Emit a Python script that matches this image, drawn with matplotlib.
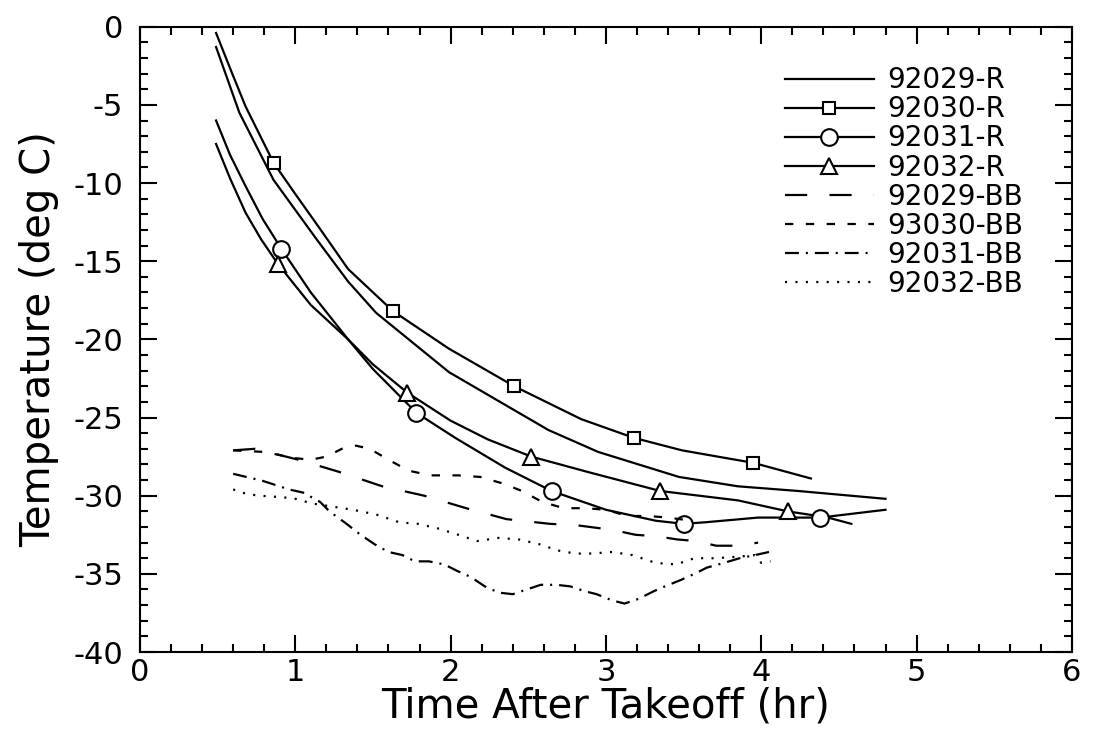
"""
Temperature vs time after takeoff, R and BB runs.
"""

from matplotlib import pyplot as plt
from matplotlib.lines import Line2D
from matplotlib.ticker import MultipleLocator

# R runs (solid lines)
r29_x = [0.49, 0.64, 0.86, 1.13, 1.34, 1.52, 1.99, 2.63, 2.95, 3.47, 3.85, 4.24, 4.80]
r29_y = [-1.3, -5.5, -9.8, -13.5, -16.3, -18.3, -22.1, -25.8, -27.2, -28.8, -29.4, -29.7, -30.2]

r30_x = [0.49, 0.59, 0.68, 0.86, 1.0, 1.15, 1.34, 1.63, 1.99, 2.41, 2.84, 3.18, 3.49, 3.95, 4.32]
r30_y = [-0.4, -2.9, -5.1, -8.7, -10.7, -12.8, -15.5, -18.2, -20.6, -23.0, -25.1, -26.3, -27.1, -27.9, -28.9]
r30_mx = [0.86, 1.63, 2.41, 3.18, 3.95]
r30_my = [-8.7, -18.2, -23.0, -26.3, -27.9]

r31_x = [0.49, 0.58, 0.68, 0.79, 0.91, 1.1, 1.34, 1.5, 1.78, 2.03, 2.35, 2.65, 3.0, 3.32, 3.50,
         3.64, 3.98, 4.38, 4.80]
r31_y = [-6.0, -8.2, -10.2, -12.3, -14.2, -17.0, -20.0, -21.9, -24.7, -26.3, -28.2, -29.7, -30.9,
         -31.6, -31.8, -31.7, -31.4, -31.4, -30.9]
r31_mx = [0.91, 1.78, 2.65, 3.50, 4.38]
r31_my = [-14.2, -24.7, -29.7, -31.8, -31.4]

r32_x = [0.49, 0.58, 0.68, 0.78, 0.89, 1.1, 1.34, 1.5, 1.72, 2.0, 2.24, 2.52, 2.89, 3.35, 3.85,
         4.17, 4.43, 4.58]
r32_y = [-7.5, -9.7, -11.9, -13.6, -15.2, -17.8, -20.0, -21.6, -23.4, -25.2, -26.4, -27.5, -28.5,
         -29.7, -30.3, -31.0, -31.4, -31.8]
r32_mx = [0.89, 1.72, 2.52, 3.35, 4.17]
r32_my = [-15.2, -23.4, -27.5, -29.7, -31.0]

# BB runs (broken lines)
bb29_x = [0.6, 0.74, 1.02, 1.29, 1.56, 1.83, 2.10, 2.36, 2.64, 2.82, 3.05, 3.19, 3.33, 3.46, 3.58,
          3.71, 3.86, 3.98]
bb29_y = [-27.1, -27.0, -27.7, -28.5, -29.4, -30.0, -30.8, -31.5, -31.8, -31.9, -32.2, -32.5, -32.6,
          -32.8, -32.9, -33.2, -33.2, -33.0]

bb30_x = [0.6, 0.8, 1.0, 1.1, 1.2, 1.3, 1.39, 1.48, 1.6, 1.73, 1.87, 2.05, 2.19, 2.33, 2.46, 2.59,
          2.73, 2.87, 3.0, 3.14, 3.27, 3.40, 3.55]
bb30_y = [-27.1, -27.2, -27.6, -27.7, -27.5, -27.0, -26.8, -27.0, -27.7, -28.4, -28.7, -28.7, -28.8,
          -29.2, -29.7, -30.4, -30.8, -30.8, -30.9, -31.3, -31.3, -31.4, -31.6]

bb31_x = [0.6, 0.79, 0.96, 1.05, 1.16, 1.22, 1.33, 1.42, 1.51, 1.60, 1.69, 1.77, 1.86, 1.96, 2.04,
          2.13, 2.22, 2.31, 2.40, 2.49, 2.58, 2.68, 2.77, 2.86, 2.94, 3.04, 3.12, 3.21, 3.31, 3.38,
          3.48, 3.57, 3.65, 3.76, 3.86, 3.96, 4.05]
bb31_y = [-28.6, -29.05, -29.6, -29.8, -30.4, -31.0, -31.8, -32.5, -33.1, -33.6, -33.8, -34.2, -34.2,
          -34.4, -34.8, -35.2, -35.8, -36.2, -36.3, -36.0, -35.7, -35.7, -35.8, -36.1, -36.3, -36.7,
          -36.9, -36.6, -36.1, -35.8, -35.4, -35.0, -34.6, -34.3, -34.0, -33.8, -33.6]

bb32_x = [0.6, 0.69, 0.77, 0.92, 1.0, 1.11, 1.24, 1.37, 1.52, 1.67, 1.79, 1.92, 2.05, 2.17, 2.31,
          2.44, 2.57, 2.69, 2.80, 2.91, 3.04, 3.17, 3.32, 3.45, 3.57, 3.70, 3.85, 3.96, 4.0, 4.06]
bb32_y = [-29.6, -29.9, -30.0, -30.1, -30.2, -30.5, -30.7, -30.9, -31.2, -31.7, -31.8, -32.1, -32.5,
          -32.9, -32.7, -32.8, -33.1, -33.5, -33.7, -33.7, -33.6, -33.8, -34.3, -34.4, -34.0, -34.0,
          -33.9, -33.8, -34.3, -34.2]

labels = ["92029-R", "92030-R", "92031-R", "92032-R",
          "92029-BB", "93030-BB", "92031-BB", "92032-BB"]


def _main():
    plt.rcParams["font.family"] = "DejaVu Sans"
    plt.rcParams["axes.unicode_minus"] = False
    plt.rcParams["lines.scale_dashes"] = False

    fig = plt.figure(figsize=(10.96, 7.36), dpi=100)
    ax = fig.add_axes([0.1277, 0.1141, 0.8503, 0.8496])

    lw = 1.6
    ax.plot(r29_x, r29_y, color="k", lw=lw)
    ax.plot(r30_x, r30_y, color="k", lw=lw)
    ax.plot(r31_x, r31_y, color="k", lw=lw)
    ax.plot(r32_x, r32_y, color="k", lw=lw)

    # markers sit on the R curves
    ax.plot(r30_mx, r30_my, ls="none", marker="s", ms=9, mfc="white", mec="k", mew=1.5)
    ax.plot(r31_mx, r31_my, ls="none", marker="o", ms=12, mfc="white", mec="k", mew=1.5)
    ax.plot(r32_mx, r32_my, ls="none", marker="^", ms=12, mfc="white", mec="k", mew=1.5)

    dash29 = (0, (16, 16))
    dash30 = (0, (6, 9))
    dash31 = (0, (10, 5, 1.5, 5))
    dash32 = (0, (1.5, 6))
    ax.plot(bb29_x, bb29_y, color="k", lw=lw, ls=dash29)
    ax.plot(bb30_x, bb30_y, color="k", lw=lw, ls=dash30)
    ax.plot(bb31_x, bb31_y, color="k", lw=lw, ls=dash31)
    ax.plot(bb32_x, bb32_y, color="k", lw=lw, ls=dash32)

    ax.set_xlim(0, 6)
    ax.set_ylim(-40, 0)
    ax.xaxis.set_major_locator(MultipleLocator(1))
    ax.xaxis.set_minor_locator(MultipleLocator(0.2))
    ax.yaxis.set_major_locator(MultipleLocator(5))
    ax.yaxis.set_minor_locator(MultipleLocator(1))
    ax.tick_params(which="both", direction="in", top=True, right=True, width=1.5)
    ax.tick_params(which="major", length=12, labelsize=22)
    ax.tick_params(axis="y", which="major", pad=12)
    ax.tick_params(axis="x", which="major", pad=4)
    ax.tick_params(which="minor", length=6)
    for s in ax.spines.values():
        s.set_linewidth(1.5)

    ax.set_xlabel("Time After Takeoff (hr)", fontsize=29, labelpad=0)
    ax.set_ylabel("Temperature (deg C)", fontsize=29, labelpad=10)

    # legend built by hand so markers show once in the middle
    handles = [
        Line2D([], [], color="k", lw=lw),
        Line2D([], [], color="k", lw=lw, marker="s", ms=9, mfc="white", mew=1.5),
        Line2D([], [], color="k", lw=lw, marker="o", ms=12, mfc="white", mew=1.5),
        Line2D([], [], color="k", lw=lw, marker="^", ms=12, mfc="white", mew=1.5),
        Line2D([], [], color="k", lw=lw, ls=dash29),
        Line2D([], [], color="k", lw=lw, ls=dash30),
        Line2D([], [], color="k", lw=lw, ls=dash31),
        Line2D([], [], color="k", lw=lw, ls=dash32),
    ]
    ax.legend(handles, labels, loc="upper left", bbox_to_anchor=(0.716, 0.910),
              bbox_transform=fig.transFigure, frameon=False, fontsize=20,
              handlelength=3.2, handletextpad=0.5, labelspacing=0.04,
              borderpad=0, borderaxespad=0, numpoints=1)

    fig.savefig("out.png", dpi=100)


if __name__ == "__main__":
    _main()
